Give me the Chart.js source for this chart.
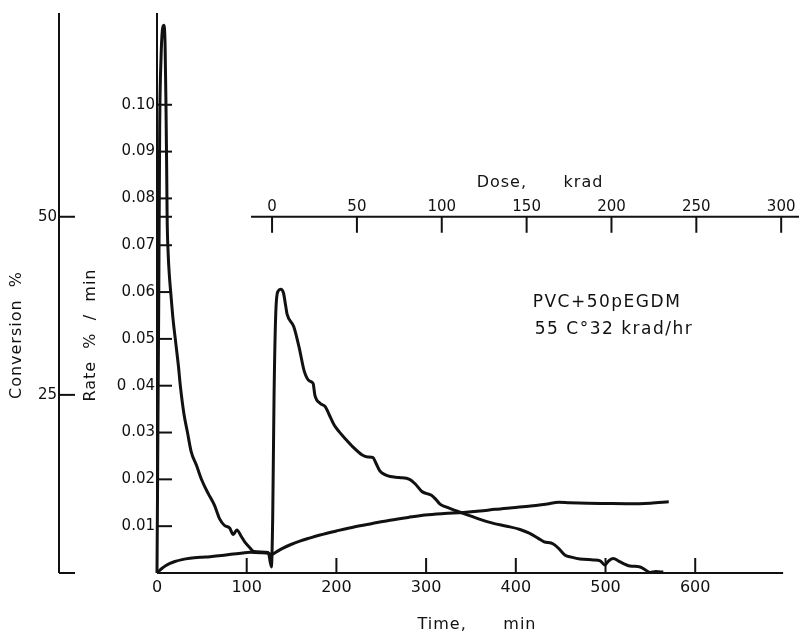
<!DOCTYPE html>
<html>
<head>
<meta charset="utf-8">
<title>PVC + 50p EGDM, 55 C, 32 krad/hr</title>
<script src="https://cdn.jsdelivr.net/npm/chart.js@4.4.1/dist/chart.umd.min.js"></script>
<style>
    html, body { margin: 0; padding: 0; background: #fff; }
    #wrap { width: 799px; height: 632px; position: relative; }
</style>
</head>
<body>
<div id="wrap"><canvas id="chart"></canvas></div>
<script>
// Tick values and labels
const timeTicks = [0, 100, 200, 300, 400, 500, 600];
const timeTickLabels = ['0', '100', '200', '300', '400', '500', '600'];
const rateTicks = [0.01, 0.02, 0.03, 0.04, 0.05, 0.06, 0.07, 0.08, 0.09, 0.10];
const rateTickLabels = ['0.01', '0.02', '0.03', '0 .04', '0.05', '0.06', '0.07', '0.08', '0.09', '0.10'];
const conversionTicks = [25, 50];
const conversionTickLabels = ['25', '50'];
const doseTicks = [0, 50, 100, 150, 200, 250, 300];
const doseTickLabels = ['0', '50', '100', '150', '200', '250', '300'];

// Rate curve (% / min against time, min)
const rateTime = [0, 2, 3, 4.5, 6, 7.5, 9, 10, 10.8, 11.3, 12.5, 13.8, 15.5, 18, 21, 24, 26, 30, 34, 38, 44,
    50, 57, 64, 70, 75, 81, 85, 89, 94, 98, 103, 108, 116, 124, 127.5, 129, 130.5, 132.5, 135, 138,
    141, 143.5, 145, 152.5, 158.3, 164.3, 170, 174, 176, 182, 187.7, 192, 197.5, 203, 209.3, 218,
    228.8, 235, 240.6, 244, 248.4, 254, 260, 270, 281.6, 288, 295.3, 300, 306, 311, 315.5, 322,
    330.4, 346, 361, 375, 389.8, 404.7, 415, 425, 431, 441.8, 448, 455, 462, 471.6, 486.4, 494,
    499.4, 503, 508.7, 515, 527.3, 538.5, 545, 549.6, 556, 564.4];
const rateValue = [0, 0.06, 0.095, 0.11, 0.116, 0.117, 0.113, 0.1, 0.086, 0.076, 0.068, 0.0635, 0.0595, 0.054,
    0.049, 0.044, 0.04, 0.034, 0.03, 0.026, 0.023, 0.0198, 0.017, 0.0145, 0.0115, 0.0102, 0.0096,
    0.0082, 0.0092, 0.0078, 0.0066, 0.0055, 0.0046, 0.0045, 0.0044, 0.0013, 0.012, 0.038, 0.056,
    0.0602, 0.0606, 0.0598, 0.057, 0.0553, 0.0526, 0.0483, 0.043, 0.041, 0.0405, 0.038, 0.0362,
    0.0355, 0.0338, 0.0316, 0.0302, 0.0288, 0.027, 0.0252, 0.0248, 0.0247, 0.0235, 0.0218, 0.021,
    0.0206, 0.0204, 0.02, 0.019, 0.0174, 0.017, 0.0166, 0.0157, 0.0147, 0.0141, 0.0135, 0.0124,
    0.0114, 0.0106, 0.01, 0.0093, 0.0085, 0.0074, 0.0067, 0.0062, 0.0052, 0.0038, 0.0034, 0.003,
    0.0028, 0.0026, 0.0017, 0.0025, 0.0031, 0.0025, 0.0015, 0.0013, 0.0006, 0.0001, 0.0003, 0.0002];

// Conversion curve (% against time, min)
const conversionTime = [0, 5, 10, 14.5, 20, 28, 36.8, 48, 59, 72, 85, 95, 103.7, 115, 124, 128, 130,
    135, 140, 148, 160, 170, 181.7, 200, 220.7, 240, 259.7, 280, 299, 320, 341.5, 360, 377, 400,
    416.5, 435, 447.8, 460, 480, 500, 523.6, 550, 570.5];
const conversionValue = [0, 0.6, 1.05, 1.36, 1.62, 1.88, 2.06, 2.2, 2.29, 2.45, 2.67, 2.8, 2.9, 2.85,
    2.76, 2.6, 2.72, 3.1, 3.45, 3.93, 4.5, 4.9, 5.33, 5.9, 6.5, 6.95, 7.4, 7.8, 8.14, 8.35, 8.5, 8.7,
    8.94, 9.2, 9.4, 9.7, 9.92, 9.85, 9.78, 9.75, 9.72, 9.8, 10.0];

// Axis ranges
const TIME_MAX = 715.7;
const TIME_AXIS_END = 698;
const RATE_MAX = 0.1196;
const CONVERSION_MAX = 78.6;
const DOSE_MIN = -67.8;
const DOSE_MAX = 310.5;
const DOSE_LINE_START = -12.4;
const DOSE_AXIS_LEVEL = 50;   // dose axis sits at the 50 % conversion level

const INK = '#111';
const FONT = '"DejaVu Sans", sans-serif';

Chart.defaults.font.family = FONT;
Chart.defaults.font.size = 15;
Chart.defaults.color = INK;

function toPoints(xs, ys) {
    return xs.map((v, i) => ({ x: v, y: ys[i] }));
}

// Axis lines, inward ticks, dose axis and titles drawn like the paper figure
const paperAxes = {
    id: 'paperAxes',
    afterDatasetsDraw(chart) {
        const { ctx, chartArea: area, scales } = chart;
        const x = scales.x, y = scales.y, y2 = scales.y2, x2 = scales.x2;
        const seg = (a, b, c, d) => {
            ctx.beginPath();
            ctx.moveTo(a, b);
            ctx.lineTo(c, d);
            ctx.stroke();
        };
        ctx.save();
        ctx.strokeStyle = INK;
        ctx.fillStyle = INK;
        ctx.lineWidth = 2;

        // conversion axis
        const cx = y2.right;
        seg(cx, area.top, cx, area.bottom);
        [0, ...conversionTicks].forEach(v => {
            const py = y2.getPixelForValue(v);
            seg(cx, py, cx + 16, py);
        });

        // rate axis
        seg(area.left, area.top, area.left, area.bottom);
        rateTicks.forEach(v => {
            const py = y.getPixelForValue(v);
            seg(area.left, py, area.left + 15, py);
        });
        const doseY = y2.getPixelForValue(DOSE_AXIS_LEVEL);
        seg(area.left, doseY, area.left + 15, doseY);

        // time axis
        seg(area.left, area.bottom, x.getPixelForValue(TIME_AXIS_END), area.bottom);
        timeTicks.filter(v => v > 0).forEach(v => {
            const px = x.getPixelForValue(v);
            seg(px, area.bottom, px, area.bottom - 15);
        });

        // dose axis
        seg(x2.getPixelForValue(DOSE_LINE_START), doseY, area.right, doseY);
        ctx.font = '15px ' + FONT;
        ctx.textAlign = 'center';
        ctx.textBaseline = 'middle';
        doseTicks.forEach((v, i) => {
            const px = x2.getPixelForValue(v);
            seg(px, doseY, px, doseY + 16);
            ctx.fillText(doseTickLabels[i], px, doseY - 10);
        });

        // titles
        ctx.font = '16px ' + FONT;
        ctx.letterSpacing = '1px';
        ctx.fillText('Dose,      krad', 540, 183);
        ctx.fillText('Time,      min', 477, 625);

        ctx.save();
        ctx.translate(17, 335);
        ctx.rotate(-Math.PI / 2);
        ctx.fillText('Conversion  %', 0, 0);
        ctx.restore();

        ctx.save();
        ctx.translate(91, 335);
        ctx.rotate(-Math.PI / 2);
        ctx.fillText('Rate  %  /  min', 0, 0);
        ctx.restore();

        // sample note
        ctx.font = '17px ' + FONT;
        ctx.letterSpacing = '1.5px';
        ctx.fillText('PVC+50pEGDM', 607, 303);
        ctx.fillText('55 C°32 krad/hr', 614, 330);
        ctx.restore();
    }
};

new Chart(document.getElementById('chart'), {
    type: 'line',
    data: {
        datasets: [
            {
                label: 'Rate',
                data: toPoints(rateTime, rateValue),
                xAxisID: 'x',
                yAxisID: 'y',
                borderColor: INK,
                borderWidth: 3,
                pointRadius: 0,
                cubicInterpolationMode: 'monotone',
                clip: false
            },
            {
                label: 'Conversion',
                data: toPoints(conversionTime, conversionValue),
                xAxisID: 'x',
                yAxisID: 'y2',
                borderColor: INK,
                borderWidth: 3,
                pointRadius: 0,
                cubicInterpolationMode: 'monotone',
                clip: false
            }
        ]
    },
    options: {
        responsive: true,
        maintainAspectRatio: false,
        animation: false,
        layout: { padding: { top: 13, right: 0, bottom: 0, left: 0 } },
        plugins: {
            legend: { display: false },
            tooltip: { enabled: false }
        },
        scales: {
            x: {
                type: 'linear',
                position: 'bottom',
                min: 0,
                max: TIME_MAX,
                grid: { display: false, drawTicks: false },
                border: { display: false },
                afterBuildTicks: scale => { scale.ticks = timeTicks.map(v => ({ value: v })); },
                ticks: {
                    padding: 5,
                    maxRotation: 0,
                    font: { size: 16 },
                    callback: (value, index) => timeTickLabels[index]
                },
                afterFit: scale => { scale.height = 59; }
            },
            y: {
                type: 'linear',
                position: 'left',
                weight: 0,
                min: 0,
                max: RATE_MAX,
                grid: { display: false, drawTicks: false },
                border: { display: false },
                afterBuildTicks: scale => { scale.ticks = rateTicks.map(v => ({ value: v })); },
                ticks: {
                    padding: 2,
                    callback: (value, index) => rateTickLabels[index]
                },
                afterFit: scale => { scale.width = 98; }
            },
            y2: {
                type: 'linear',
                position: 'left',
                weight: 1,
                min: 0,
                max: CONVERSION_MAX,
                grid: { display: false, drawTicks: false },
                border: { display: false },
                afterBuildTicks: scale => { scale.ticks = conversionTicks.map(v => ({ value: v })); },
                ticks: {
                    padding: 2,
                    callback: (value, index) => conversionTickLabels[index]
                },
                afterFit: scale => { scale.width = 59; }
            },
            x2: {
                type: 'linear',
                display: false,
                min: DOSE_MIN,
                max: DOSE_MAX
            }
        }
    },
    plugins: [paperAxes]
});
</script>
</body>
</html>
